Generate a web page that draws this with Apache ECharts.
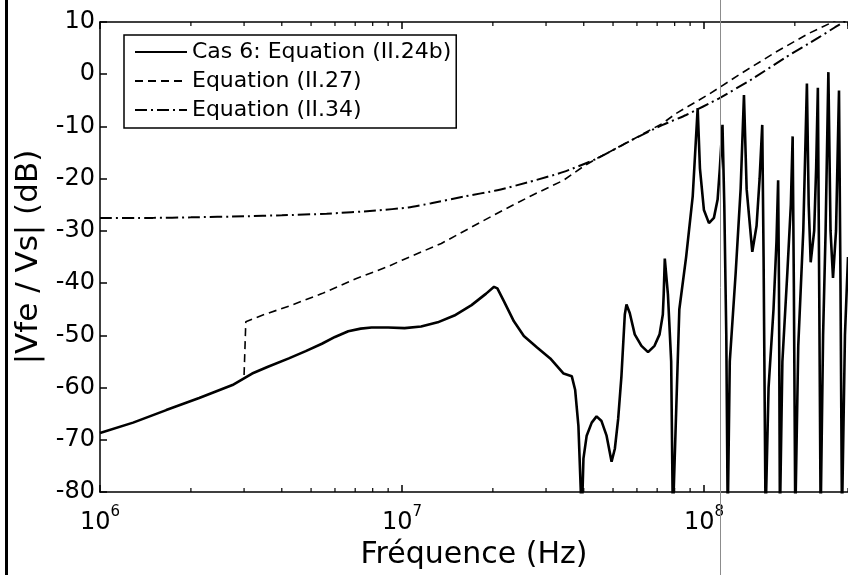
<!DOCTYPE html>
<html>
<head>
<meta charset="utf-8">
<script src="https://cdn.jsdelivr.net/npm/echarts@6/dist/echarts.min.js"></script>
<style>
html,body{margin:0;padding:0;background:#fff;}
#chart{width:848px;height:575px;}
</style>
</head>
<body>
<div id="chart"></div>
<script>
// ---------- data (frequency in Hz, level in dB) ----------
const seriesNames = ['Cas 6: Equation (II.24b)', 'Equation (II.27)', 'Equation (II.34)'];

const cas6Freq = [1e6,1.287e6,1.657e6,2.13e6,2.745e6,3.19e6,3.6e6,4.22e6,4.8e6,5.43e6,6.0e6,6.64e6,7.3e6,7.93e6,9.0e6,1.02e7,1.157e7,1.313e7,1.491e7,1.7e7,1.9e7,2.018e7,2.07e7,2.177e7,2.348e7,2.533e7,2.802e7,3.098e7,3.43e7,3.65e7,3.745e7,3.84e7,3.94e7,3.99e7,4.09e7,4.25e7,4.41e7,4.58e7,4.76e7,4.945e7,5.07e7,5.2e7,5.33e7,5.47e7,5.54e7,5.68e7,5.90e7,6.21e7,6.53e7,6.86e7,7.13e7,7.31e7,7.36e7,7.42e7,7.60e7,7.79e7,7.89e7,8.29e7,8.73e7,9.18e7,9.535e7,9.70e7,1.0e8,1.039e8,1.079e8,1.110e8,1.129e8,1.152e8,1.168e8,1.186e8,1.199e8,1.218e8,1.274e8,1.323e8,1.357e8,1.385e8,1.446e8,1.494e8,1.529e8,1.560e8,1.576e8,1.600e8,1.637e8,1.700e8,1.739e8,1.761e8,1.772e8,1.785e8,1.819e8,1.889e8,1.94e8,1.967e8,1.985e8,2.007e8,2.053e8,2.133e8,2.165e8,2.193e8,2.223e8,2.257e8,2.318e8,2.353e8,2.384e8,2.408e8,2.435e8,2.481e8,2.529e8,2.583e8,2.626e8,2.676e8,2.738e8,2.801e8,2.833e8,2.865e8,2.931e8,3.0e8];
const cas6Db = [-68.7,-66.7,-64.3,-62.0,-59.5,-57.3,-56.0,-54.4,-53.0,-51.6,-50.3,-49.2,-48.7,-48.5,-48.5,-48.6,-48.3,-47.5,-46.2,-44.2,-42.0,-40.7,-41.0,-43.5,-47.3,-50.1,-52.3,-54.4,-57.3,-57.8,-60.4,-67.3,-85,-73.6,-69.2,-66.7,-65.5,-66.4,-69.2,-74.2,-71.7,-66.0,-57.9,-46.0,-44.1,-45.7,-49.8,-52.0,-53.2,-52.0,-49.8,-46,-42,-35.3,-42.2,-55,-85,-45,-35,-23.4,-6.5,-18,-26,-28.5,-27.5,-24,-18,-9.7,-25,-50,-85,-55,-38,-22,-4.0,-22,-34,-29,-20,-9.7,-35,-85,-60,-45,-32,-20.3,-40,-85,-55,-38,-25,-11.9,-40,-85,-52,-30,-15,-1.8,-25,-36,-30,-18,-2.6,-40,-85,-50,-30,0.4,-30,-39,-30,-3.1,-40,-85,-50,-35];

const eq27Freq = [3.0e6,3.04e6,3.5e6,4.22e6,5.43e6,7.0e6,9.0e6,1.0e7,1.35e7,1.61e7,2.07e7,2.65e7,3.43e7,4.0e7,4.4e7,5.68e7,7.3e7,8.09e7,1.041e8,1.341e8,1.725e8,2.221e8,2.651e8,3.0e8];
const eq27Db = [-57.6,-47.4,-46.0,-44.4,-42.0,-39.2,-36.8,-35.6,-32.4,-30.0,-26.6,-23.4,-20.3,-17.6,-16.2,-12.8,-9.4,-7.5,-3.8,0.3,4.2,7.8,9.9,11.6];

const eq34Freq = [1e6,1.5e6,2e6,3e6,4e6,5.63e6,8.2e6,1.05e7,1.25e7,1.61e7,2.07e7,2.65e7,3.43e7,4.4e7,5.68e7,7.3e7,8.73e7,1.123e8,1.446e8,1.861e8,2.395e8,2.718e8,3.0e8];
const eq34Db = [-27.5,-27.5,-27.4,-27.2,-27.0,-26.7,-26.1,-25.5,-24.7,-23.4,-22.2,-20.6,-18.7,-16.2,-12.8,-9.7,-7.8,-4.6,-0.9,3.2,7.0,9.0,10.5];

const xTickPowers = [6, 7, 8];
const minorTickFreq = [2e6,3e6,4e6,5e6,6e6,7e6,8e6,9e6,2e7,3e7,4e7,5e7,6e7,7e7,8e7,9e7,2e8,3e8];
const xMin = 1e6, xMax = 3e8, yMin = -80, yMax = 10, yStep = 10;

// ---------- chart ----------
const FONT = 'DejaVu Sans';
const zip = (a, b) => a.map((v, i) => [v, b[i]]);
const chart = echarts.init(document.getElementById('chart'), null, {renderer: 'canvas'});

function xFmt(v) {
  const e = Math.log10(v);
  const r = Math.round(e);
  if (Math.abs(e - r) > 1e-6 || xTickPowers.indexOf(r) < 0) return '';
  return '{b|10}{s|' + r + '}';
}

const option = {
  backgroundColor: '#fff',
  animation: false,
  textStyle: {fontFamily: FONT, color: '#000'},
  grid: {left: 100, top: 22, width: 753, height: 478, containLabel: false},
  legend: {
    orient: 'vertical', left: 124, top: 35,
    padding: [6, 5, 7, 10], itemGap: 7, itemWidth: 52, itemHeight: 14,
    borderColor: '#000', borderWidth: 1.5, backgroundColor: '#fff',
    itemStyle: {opacity: 0},
    textStyle: {fontFamily: FONT, fontSize: 22, color: '#000'},
    data: seriesNames
  },
  xAxis: [{
    type: 'log', logBase: 10, min: xMin, max: xMax,
    name: 'Fréquence (Hz)', nameLocation: 'middle', nameGap: 40,
    nameTextStyle: {fontFamily: FONT, fontSize: 30, color: '#000'},
    axisLine: {show: true, onZero: false, lineStyle: {color: '#000', width: 1.5}},
    axisTick: {show: true, inside: true, length: 7, lineStyle: {color: '#000', width: 1.5}},
    splitLine: {show: false}, minorTick: {show: false},
    axisLabel: {
      show: true, margin: 13, showMaxLabel: false, formatter: xFmt,
      rich: {
        b: {fontFamily: FONT, fontSize: 24, color: '#000', lineHeight: 30, verticalAlign: 'bottom'},
        s: {fontFamily: FONT, fontSize: 15, color: '#000', lineHeight: 15, verticalAlign: 'top'}
      }
    }
  }, {
    type: 'log', logBase: 10, min: xMin, max: xMax, position: 'top',
    axisLine: {show: true, onZero: false, lineStyle: {color: '#000', width: 1.5}},
    axisTick: {show: true, inside: true, length: 7, lineStyle: {color: '#000', width: 1.5}},
    axisLabel: {show: false}, splitLine: {show: false}
  }],
  yAxis: [{
    type: 'value', min: yMin, max: yMax, interval: yStep,
    name: '|Vfe / Vs| (dB)', nameLocation: 'middle', nameGap: 54,
    nameTextStyle: {fontFamily: FONT, fontSize: 31, color: '#000'},
    axisLine: {show: true, onZero: false, lineStyle: {color: '#000', width: 1.5}},
    axisTick: {show: true, inside: true, length: 7, lineStyle: {color: '#000', width: 1.5}},
    axisLabel: {fontFamily: FONT, fontSize: 24, color: '#000', margin: 5},
    splitLine: {show: false}
  }],
  series: [
    {
      name: seriesNames[0], type: 'line', data: zip(cas6Freq, cas6Db),
      showSymbol: false, symbol: 'none', clip: true,
      lineStyle: {color: '#000', width: 2.6, type: 'solid'},
      itemStyle: {color: '#000'}, z: 5
    },
    {
      name: seriesNames[1], type: 'line', data: zip(eq27Freq, eq27Db),
      showSymbol: false, symbol: 'none', clip: true,
      lineStyle: {color: '#000', width: 1.6, type: [8, 5]},
      itemStyle: {color: '#000'}, z: 4
    },
    {
      name: seriesNames[2], type: 'line', data: zip(eq34Freq, eq34Db),
      showSymbol: false, symbol: 'none', clip: true, smooth: 0.2,
      lineStyle: {color: '#000', width: 2, type: [12, 4, 2, 4]},
      itemStyle: {color: '#000'}, z: 4
    },
    {
      type: 'custom', name: 'minorTicks', silent: true, clip: false,
      data: minorTickFreq.map(f => [f, yMin]),
      encode: {x: 0, y: 1},
      renderItem: function (params, api) {
        const b = api.coord([api.value(0), yMin]);
        const t = api.coord([api.value(0), yMax]);
        const st = {stroke: '#000', lineWidth: 1.2};
        return {type: 'group', children: [
          {type: 'line', shape: {x1: b[0], y1: b[1], x2: b[0], y2: b[1] - 4}, style: st},
          {type: 'line', shape: {x1: t[0], y1: t[1], x2: t[0], y2: t[1] + 4}, style: st}
        ]};
      }
    }
  ],
  graphic: [
    {type: 'line', shape: {x1: 6.5, y1: 0, x2: 6.5, y2: 575}, style: {stroke: '#000', lineWidth: 3}},
    {type: 'line', shape: {x1: 720.5, y1: 0, x2: 720.5, y2: 575}, style: {stroke: '#8c8c8c', lineWidth: 1}, z: 10}
  ]
};
chart.setOption(option);
</script>
</body>
</html>
